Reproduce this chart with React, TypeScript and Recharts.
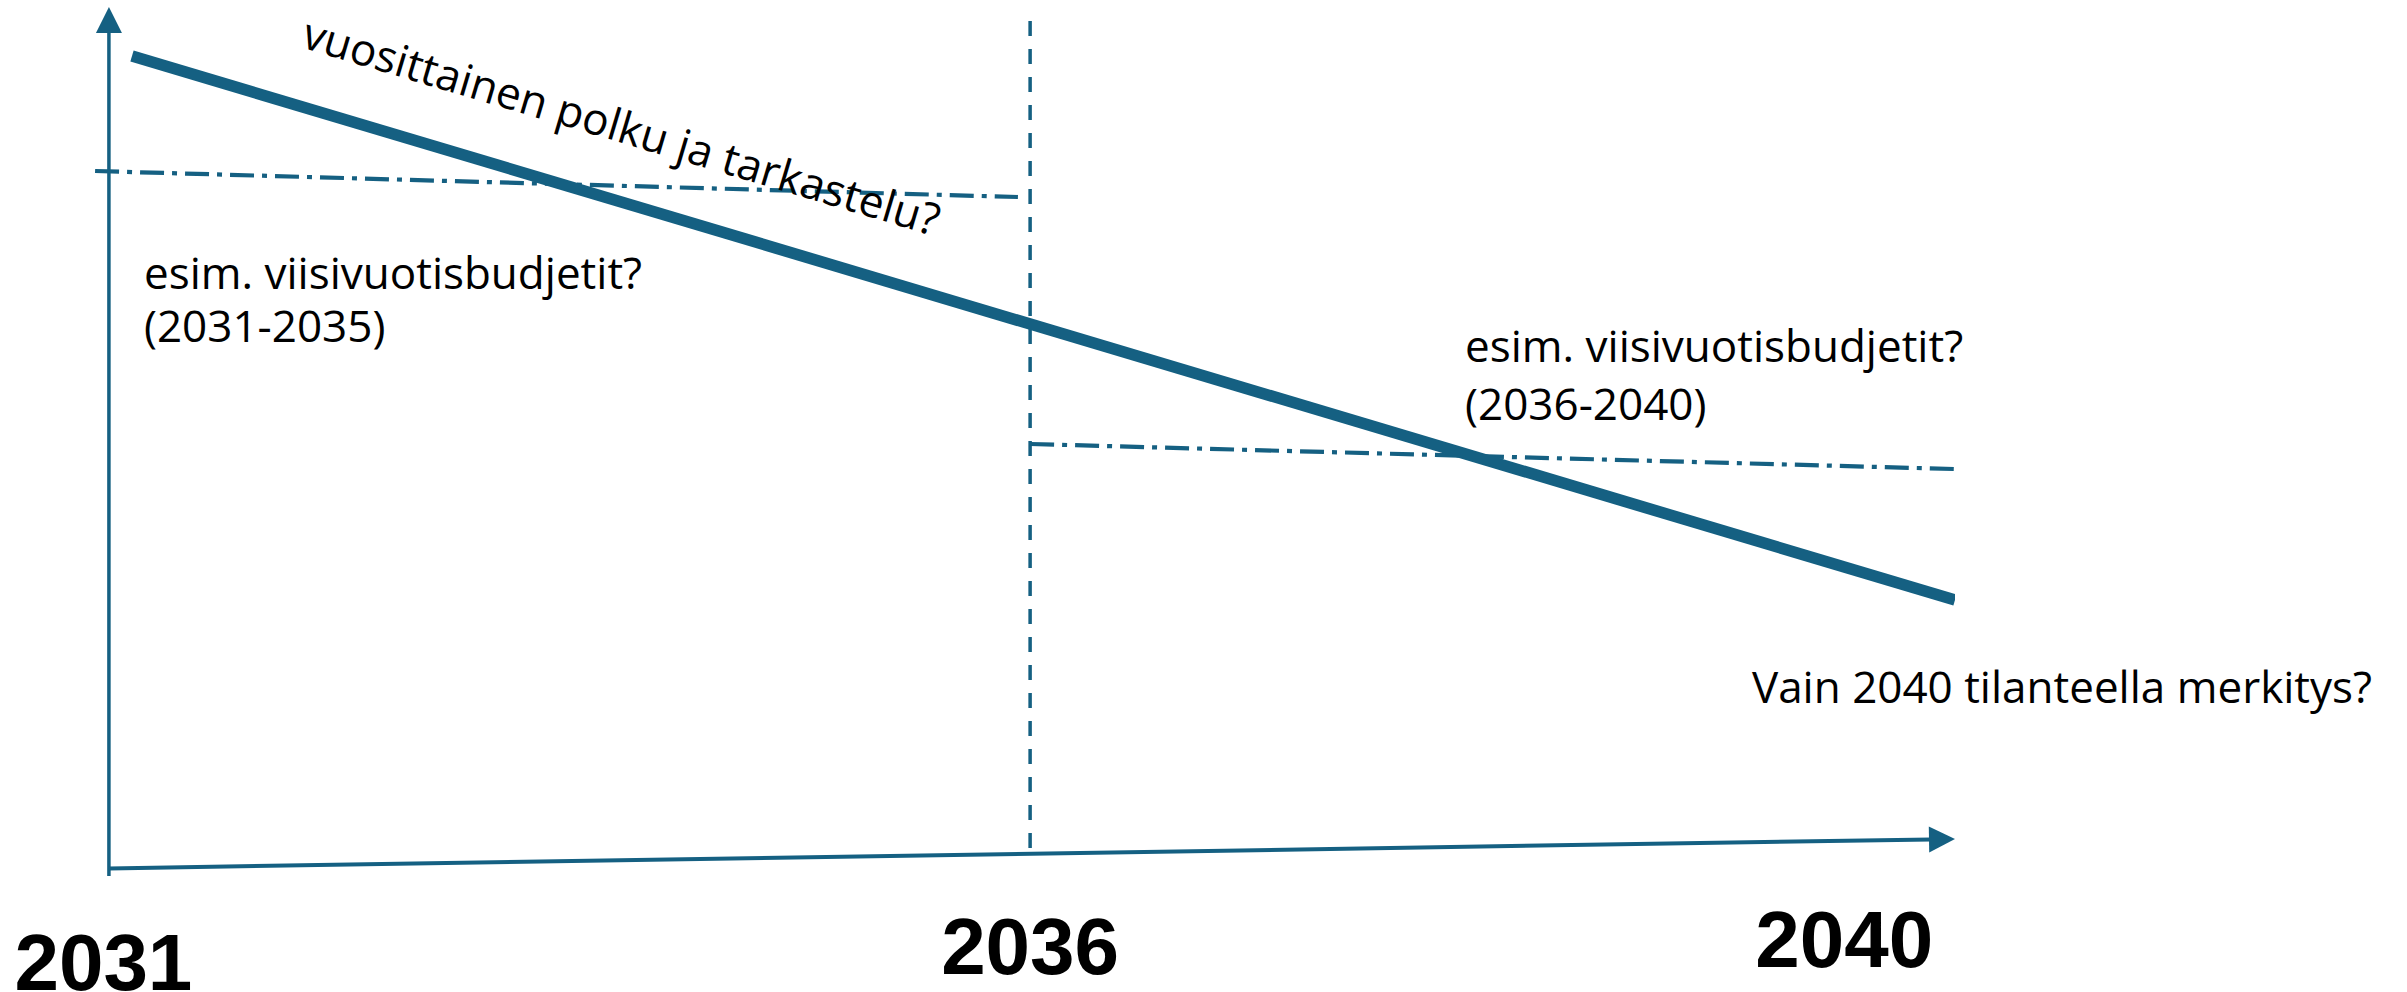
import React from 'react';
import { LineChart, Line, XAxis, YAxis, ReferenceLine, ReferenceDot } from 'recharts';

// ---------- data (relative timeline units: 0 = origin, 100 = arrow end) ----------
const xTickValues = [-0.3, 49.9, 94];
const xTickLabels = ['2031', '2036', '2040'];

// annual path ("vuosittainen polku")
const pathT = [1.25, 100];
const pathV = [94.31, 31.16];

// five-year budget levels
const budget1T = [-0.75, 49.24];
const budget1V = [80.96, 77.94];
const budget2T = [49.9, 100];
const budget2V = [49.27, 46.36];

// axes and divider
const yAxisT = 0;
const yAxisV = [-0.88, 100];
const xAxisT = [0, 100];
const xAxisV = [0, 3.41];
const dividerT = 49.9;
const dividerV = [98.37, 2.25];

// annotations
const noteTexts = [
  'vuosittainen polku ja tarkastelu?',
  'esim. viisivuotisbudjetit?',
  '(2031-2035)',
  'esim. viisivuotisbudjetit?',
  '(2036-2040)',
  'Vain 2040 tilanteella merkitys?',
];
const noteT = [10.35, 1.9, 1.9, 73.46, 73.46, 89.0];
const noteV = [95.35, 67.26, 61.11, 58.79, 52.05, 19.2];

// ---------- layout / style ----------
const W = 2407;
const H = 992;
const COLOR = '#156082';
const NOTE_ROTATION = [16.6, 0, 0, 0, 0, 0];
const TICK_DY = [113, 97, 90];
const ARROW_LEN = 26;
const ARROW_HALF = 13;
const DASH_DOT = '24 8 5 8';

const toRows = (ts: number[], vs: number[]) => ts.map((t, i) => ({ t, v: vs[i] }));
const pathData = toRows(pathT, pathV);
const budget1Data = toRows(budget1T, budget1V);
const budget2Data = toRows(budget2T, budget2V);

function arrowShape(width: number) {
  return (p: any) => {
    const { x1, y1, x2, y2 } = p;
    const dx = x2 - x1;
    const dy = y2 - y1;
    const len = Math.hypot(dx, dy) || 1;
    const ux = dx / len;
    const uy = dy / len;
    const bx = x2 - ux * ARROW_LEN;
    const by = y2 - uy * ARROW_LEN;
    const px = -uy * ARROW_HALF;
    const py = ux * ARROW_HALF;
    return (
      <g>
        <line x1={x1} y1={y1} x2={bx + ux * 2} y2={by + uy * 2} stroke={COLOR} strokeWidth={width} />
        <polygon points={`${x2},${y2} ${bx + px},${by + py} ${bx - px},${by - py}`} fill={COLOR} />
      </g>
    );
  };
}

const YearTick = (props: any) => {
  const { x, y, payload } = props;
  const i = xTickValues.indexOf(payload.value);
  return (
    <text
      x={x}
      y={y + (TICK_DY[i] ?? 100)}
      textAnchor="middle"
      fontFamily="'Liberation Sans', Arial, sans-serif"
      fontWeight={700}
      fontSize={80}
      fill="#000"
    >
      {xTickLabels[i]}
    </text>
  );
};

const noteShape = (i: number) => (p: any) => {
  const { cx, cy } = p;
  const rot = NOTE_ROTATION[i];
  return (
    <text
      x={cx}
      y={cy}
      fontFamily="'Open Sans', sans-serif"
      fontSize={44}
      fill="#000"
      transform={rot ? `rotate(${rot} ${cx} ${cy})` : undefined}
    >
      {noteTexts[i]}
    </text>
  );
};

export default function App() {
  return (
    <div style={{ position: 'absolute', left: 0, top: 0, width: W, height: H, background: '#fff' }}>
      <LineChart width={W} height={H} margin={{ top: 7, right: 452, bottom: 0, left: 72 }}>
        <XAxis
          type="number"
          dataKey="t"
          domain={[-2, 100]}
          allowDataOverflow
          ticks={xTickValues}
          interval={0}
          axisLine={false}
          tickLine={false}
          tickSize={0}
          tickMargin={0}
          height={115}
          tick={YearTick}
        />
        <YAxis type="number" dataKey="v" domain={[-1, 100]} allowDataOverflow hide />

        <Line
          data={budget1Data}
          dataKey="v"
          type="linear"
          stroke={COLOR}
          strokeWidth={4.2}
          strokeDasharray={DASH_DOT}
          dot={false}
          activeDot={false}
          isAnimationActive={false}
        />
        <Line
          data={budget2Data}
          dataKey="v"
          type="linear"
          stroke={COLOR}
          strokeWidth={4.2}
          strokeDasharray={DASH_DOT}
          dot={false}
          activeDot={false}
          isAnimationActive={false}
        />
        <Line
          data={pathData}
          dataKey="v"
          type="linear"
          stroke={COLOR}
          strokeWidth={11.5}
          dot={false}
          activeDot={false}
          isAnimationActive={false}
        />

        <ReferenceLine
          segment={[{ x: dividerT, y: dividerV[0] }, { x: dividerT, y: dividerV[1] }]}
          stroke={COLOR}
          strokeWidth={3.5}
          strokeDasharray="15 13"
          ifOverflow="visible"
        />
        <ReferenceLine
          segment={[{ x: yAxisT, y: yAxisV[0] }, { x: yAxisT, y: yAxisV[1] }]}
          stroke={COLOR}
          ifOverflow="visible"
          shape={arrowShape(3.5)}
        />
        <ReferenceLine
          segment={[{ x: xAxisT[0], y: xAxisV[0] }, { x: xAxisT[1], y: xAxisV[1] }]}
          stroke={COLOR}
          ifOverflow="visible"
          shape={arrowShape(4)}
        />

        {noteTexts.map((_, i) => (
          <ReferenceDot
            key={i}
            x={noteT[i]}
            y={noteV[i]}
            r={0}
            ifOverflow="visible"
            shape={noteShape(i)}
          />
        ))}
      </LineChart>
    </div>
  );
}
